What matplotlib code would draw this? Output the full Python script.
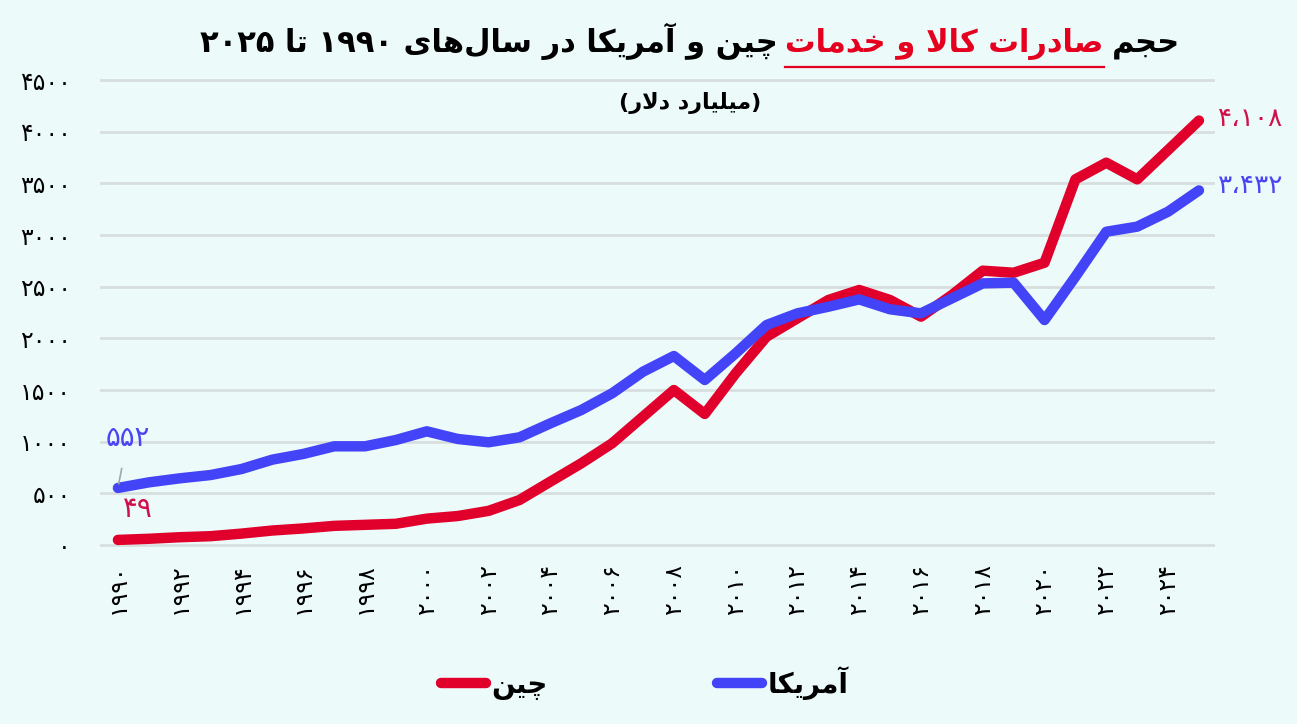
import re
import matplotlib
matplotlib.use("Agg")
import matplotlib.pyplot as plt
from matplotlib.lines import Line2D

# داده‌ها (میلیارد دلار)
years = list(range(1990, 2026))
china = [49, 60, 75, 85, 110, 140, 160, 185, 195, 205, 255, 280, 330, 435,
         613, 790, 984, 1242, 1500, 1268, 1661, 2016, 2194, 2371, 2468, 2371,
         2210, 2419, 2655, 2635, 2732, 3539, 3700, 3539, 3823, 4108]
usa = [552, 606, 645, 677, 735, 826, 881, 955, 955, 1016, 1100, 1026, 994,
       1042, 1177, 1306, 1468, 1677, 1829, 1597, 1855, 2129, 2242, 2306, 2377,
       2281, 2242, 2387, 2532, 2539, 2177, 2597, 3032, 3081, 3226, 3432]
y_ticks = list(range(0, 4501, 500))
x_ticks = list(range(1990, 2025, 2))
china_name = "چین"
usa_name = "آمریکا"
title_a = "حجم"
title_b = "صادرات کالا و خدمات"
title_c = "چین و آمریکا در سال\u200cهای ۱۹۹۰ تا ۲۰۲۵"
subtitle = "(میلیارد دلار)"
china_first, china_last = "۴۹", "۴،۱۰۸"
usa_first, usa_last = "۵۵۲", "۳،۴۳۲"

# شکل‌دهی ساده حروف فارسی (matplotlib خودش این کار را نمی‌کند)
FORMS = {
    "ا": (0xFE8D, 0xFE8E), "آ": (0xFE81, 0xFE82), "د": (0xFEA9, 0xFEAA),
    "ر": (0xFEAD, 0xFEAE), "و": (0xFEED, 0xFEEE),
    "ح": (0xFEA1, 0xFEA2, 0xFEA3, 0xFEA4), "ج": (0xFE9D, 0xFE9E, 0xFE9F, 0xFEA0),
    "خ": (0xFEA5, 0xFEA6, 0xFEA7, 0xFEA8), "م": (0xFEE1, 0xFEE2, 0xFEE3, 0xFEE4),
    "ص": (0xFEB9, 0xFEBA, 0xFEBB, 0xFEBC), "ت": (0xFE95, 0xFE96, 0xFE97, 0xFE98),
    "ل": (0xFEDD, 0xFEDE, 0xFEDF, 0xFEE0), "ن": (0xFEE5, 0xFEE6, 0xFEE7, 0xFEE8),
    "س": (0xFEB1, 0xFEB2, 0xFEB3, 0xFEB4), "ه": (0xFEE9, 0xFEEA, 0xFEEB, 0xFEEC),
    "ک": (0xFB8E, 0xFB8F, 0xFB90, 0xFB91), "چ": (0xFB7A, 0xFB7B, 0xFB7C, 0xFB7D),
    "ی": (0xFBFC, 0xFBFD, 0xFBFE, 0xFBFF),
    "لا": (0xFEFB, 0xFEFC), "لآ": (0xFEF5, 0xFEF6),
}


def shape(text):
    toks = []
    i = 0
    while i < len(text):
        if text[i] == "ل" and i + 1 < len(text) and text[i + 1] in "اآ":
            toks.append(text[i:i + 2])
            i += 2
        else:
            toks.append(text[i])
            i += 1
    out = []
    for k, t in enumerate(toks):
        if t not in FORMS:
            if t != "\u200c":
                out.append(t)
            continue
        f = FORMS[t]
        prev = toks[k - 1] if k > 0 else None
        nxt = toks[k + 1] if k + 1 < len(toks) else None
        jp = prev in FORMS and len(FORMS[prev]) == 4
        jn = len(f) == 4 and nxt in FORMS
        if jp and jn:
            out.append(chr(f[3]))
        elif jp:
            out.append(chr(f[1]))
        elif jn:
            out.append(chr(f[2]))
        else:
            out.append(chr(f[0]))
    s = "".join(out)
    runs = re.findall(r"[۰-۹0-9،]+|[^۰-۹0-9،]+", s)
    vis = []
    for r in reversed(runs):
        if re.match(r"[۰-۹0-9]", r):
            vis.append(r)
        else:
            vis.append(r[::-1].translate(str.maketrans("()", ")(")))
    return "".join(vis)


def fa(n):
    return str(n).translate(str.maketrans("0123456789", "۰۱۲۳۴۵۶۷۸۹"))


plt.rcParams["font.family"] = ["DejaVu Sans"]
bg = "#ECFAFA"
red = "#E0002B"
blue = "#4343F7"

fig = plt.figure(figsize=(12.97, 7.24), dpi=100, facecolor=bg)
ax = fig.add_axes([0.0771, 0.233, 0.8597, 0.6707], facecolor=bg)

ax.plot(years, china, color=red, lw=7.5, solid_capstyle="round",
        solid_joinstyle="round", clip_on=False, label=shape(china_name), zorder=3)
ax.plot(years, usa, color=blue, lw=7.5, solid_capstyle="round",
        solid_joinstyle="round", clip_on=False, label=shape(usa_name), zorder=3)

ax.set_xlim(1989.42, 2025.52)
ax.set_ylim(-100, 4600)
ax.set_yticks(y_ticks)
ax.set_yticklabels([fa(v) for v in y_ticks], fontsize=17)
ax.set_xticks(x_ticks)
ax.set_xticklabels([fa(v) for v in x_ticks], fontsize=17, rotation=90)
ax.tick_params(axis="y", length=0, pad=21)
ax.tick_params(axis="x", length=0, pad=6)
ax.grid(axis="y", color="#D8DEDE", lw=2)
ax.set_axisbelow(True)
for sp in ax.spines.values():
    sp.set_visible(False)

# برچسب‌های اول و آخر
ax.annotate(usa_first, xy=(years[0], usa[0]), xytext=(7, 36),
            textcoords="offset points", ha="center", va="center",
            fontsize=20, color="#4B44F5",
            arrowprops=dict(arrowstyle="-", color="#A0A8A8", lw=1.2,
                            shrinkA=10, shrinkB=3))
ax.annotate(china_first, xy=(years[0], china[0]), xytext=(14, 22),
            textcoords="offset points", ha="center", va="center",
            fontsize=20, color="#D0104A")
ax.annotate(china_last, xy=(years[-1], china[-1]), xytext=(14, 1),
            textcoords="offset points", ha="left", va="center",
            fontsize=19, color="#D0104A")
ax.annotate(usa_last, xy=(years[-1], usa[-1]), xytext=(14, 3),
            textcoords="offset points", ha="left", va="center",
            fontsize=19, color="#4B44F5")

# عنوان سه تکه
fig.canvas.draw()
r = fig.canvas.get_renderer()
ty = 1 - 52 / 724
t1 = fig.text(1180 / 1297, ty, shape(title_a), ha="right", va="baseline",
              fontsize=22, fontweight="bold", color="black")
w1 = t1.get_window_extent(r).width
t2 = fig.text((1180 - w1 - 8) / 1297, ty, shape(title_b), ha="right",
              va="baseline", fontsize=22, fontweight="bold", color="#E5001F")
b2 = t2.get_window_extent(r)
t3 = fig.text((b2.x0 - 8) / 1297, ty, shape(title_c), ha="right",
              va="baseline", fontsize=22, fontweight="bold", color="black")
fig.add_artist(Line2D([b2.x0 / 1297, b2.x1 / 1297], [1 - 67 / 724] * 2,
                      color="#E5001F", lw=1.6))
fig.text(690 / 1297, 1 - 103 / 724, shape(subtitle), ha="center", va="center",
         fontsize=16, fontweight="bold")

leg = fig.legend(loc="center", bbox_to_anchor=(0.497, 0.057), ncol=2,
                 frameon=False, handlelength=1.62,
                 handletextpad=0.2, columnspacing=6.1,
                 prop=dict(weight="bold", size=20))

fig.savefig("out.png", dpi=100, facecolor=bg)
